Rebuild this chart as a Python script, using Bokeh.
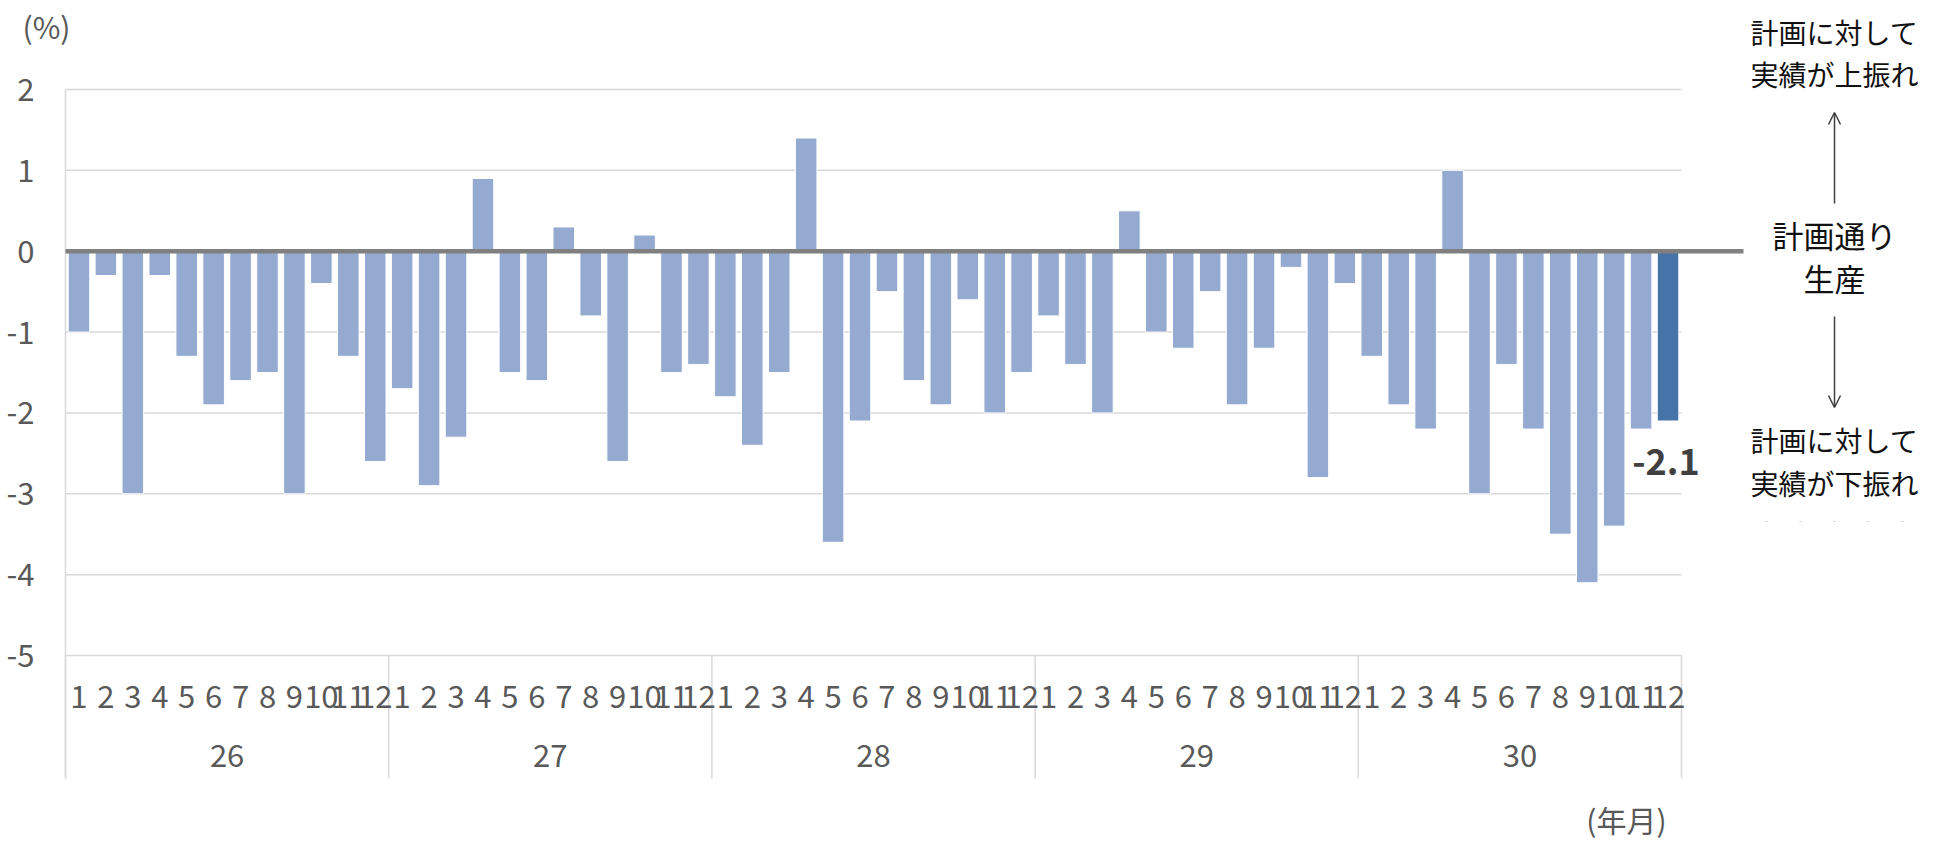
from bokeh.plotting import figure
from bokeh.models import Range1d, Label, Arrow, OpenHead, ColumnDataSource
from bokeh.core.properties import value
from bokeh.embed import file_html
from bokeh.resources import INLINE

# ---------------- data ----------------
years = ["26", "27", "28", "29", "30"]
months = ["1", "2", "3", "4", "5", "6", "7", "8", "9", "10", "11", "12"]
values_26 = [-1.0, -0.3, -3.0, -0.3, -1.3, -1.9, -1.6, -1.5, -3.0, -0.4, -1.3, -2.6]
values_27 = [-1.7, -2.9, -2.3, 0.9, -1.5, -1.6, 0.3, -0.8, -2.6, 0.2, -1.5, -1.4]
values_28 = [-1.8, -2.4, -1.5, 1.4, -3.6, -2.1, -0.5, -1.6, -1.9, -0.6, -2.0, -1.5]
values_29 = [-0.8, -1.4, -2.0, 0.5, -1.0, -1.2, -0.5, -1.9, -1.2, -0.2, -2.8, -0.4]
values_30 = [-1.3, -1.9, -2.2, 1.0, -3.0, -1.4, -2.2, -3.5, -4.1, -3.4, -2.2, -2.1]
y_ticks = [-5, -4, -3, -2, -1, 0, 1, 2]
y_tick_labels = ["-5", "-4", "-3", "-2", "-1", "0", "1", "2"]

# ---------------- styling ----------------
LIGHT = "#95AAD1"
DARK = "#4673A8"
GRID = "#D9D9D9"
AXIS_TXT = "#595959"
FONT = "Noto Sans CJK JP"
TICK_FS = "31px"

values = values_26 + values_27 + values_28 + values_29 + values_30
n_m = len(months)
N = len(values)
xs = [i + 0.5 for i in range(N)]
month_labels = months * len(years)
year_centers = [k * n_m + n_m / 2 for k in range(len(years))]
separators = [k * n_m for k in range(len(years) + 1)]
colors = [LIGHT] * (N - 1) + [DARK]

W, H = 1927, 842
MARGIN = 0
# plot area in page pixels
FL, FR, FT, FB = 65, 1681, 89, 655
Y0, Y1 = y_ticks[0], y_ticks[-1]


def dx(px):
    return (px - FL) / (FR - FL) * N


def dy(py):
    return Y1 - (py - FT) / (FB - FT) * (Y1 - Y0)


p = figure(width=W, height=H,
           x_range=Range1d(dx(MARGIN), dx(MARGIN + W)),
           y_range=Range1d(dy(MARGIN + H), dy(MARGIN)),
           x_axis_type=None, y_axis_type=None,
           output_backend="svg", toolbar_location=None, min_border=0)
p.outline_line_color = None
p.background_fill_color = "white"
p.border_fill_color = "white"

# horizontal gridlines limited to the plot area
p.segment(x0=0, x1=N, y0=y_ticks, y1=y_ticks, line_color=GRID, line_width=1.5)
# left axis line and year separators
sep_bottom = dy(778)
p.segment(x0=0, x1=0, y0=Y1, y1=sep_bottom, line_color=GRID, line_width=1.5)
p.segment(x0=separators, x1=separators, y0=Y0, y1=sep_bottom,
          line_color=GRID, line_width=1.5)

# bars
src = ColumnDataSource(dict(x=xs, top=values, color=colors))
p.vbar(x="x", top="top", bottom=0, width=0.8, fill_color="color",
       line_color="white", line_width=1, source=src)

# zero line (planned production), extends past the plot area
p.segment(x0=0, x1=dx(1743), y0=0, y1=0, line_color="#808080", line_width=4.5)

# y tick labels
p.text(x=dx(34), y=y_ticks, text=y_tick_labels, text_align="right",
       text_baseline="middle", text_font=value(FONT), text_font_size=value(TICK_FS),
       text_color=AXIS_TXT)
# month labels
p.text(x=xs, y=dy(696), text=month_labels, text_align="center",
       text_baseline="middle", text_font=value(FONT), text_font_size=value(TICK_FS),
       text_color=AXIS_TXT)
# year labels
p.text(x=year_centers, y=dy(755), text=years, text_align="center",
       text_baseline="middle", text_font=value(FONT), text_font_size=value(TICK_FS),
       text_color=AXIS_TXT)

# data label of last bar
p.add_layout(Label(x=xs[-1], y=values[-1], x_offset=-2, y_offset=-40,
                   text=f"{values[-1]}", text_align="center", text_baseline="middle",
                   text_font=FONT, text_font_size="36px", text_font_style="bold",
                   text_color="#404040"))

# unit labels
p.add_layout(Label(x=dx(22), y=dy(25), text="(%)", text_align="left",
                   text_baseline="middle", text_font=FONT, text_font_size="30px",
                   text_color=AXIS_TXT))
p.add_layout(Label(x=dx(1626), y=dy(818), text="(年月)", text_align="center",
                   text_baseline="middle", text_font=FONT, text_font_size="30px",
                   text_color=AXIS_TXT))

# right-hand explanation
RX = 1834
notes = [("計画に対して", 31, "28px"), ("実績が上振れ", 73, "28px"),
         ("計画通り", 234, "31px"), ("生産", 277, "31px"),
         ("計画に対して", 439, "28px"), ("実績が下振れ", 482, "28px")]
for txt, py, fs in notes:
    p.add_layout(Label(x=dx(RX), y=dy(py), text=txt, text_align="center",
                       text_baseline="middle", text_font=FONT, text_font_size=fs,
                       text_color="#111111"))

p.add_layout(Arrow(end=OpenHead(size=12, line_color="#404040", line_width=1.5),
                   x_start=dx(RX), x_end=dx(RX), y_start=dy(203), y_end=dy(112),
                   line_color="#404040", line_width=1.5))
p.add_layout(Arrow(end=OpenHead(size=12, line_color="#404040", line_width=1.5),
                   x_start=dx(RX), x_end=dx(RX), y_start=dy(316), y_end=dy(407),
                   line_color="#404040", line_width=1.5))

# faint dotted trace under the lower note
p.segment(x0=dx(1765), x1=dx(1910), y0=dy(521), y1=dy(521), line_color="#CFCFCF",
          line_width=1, line_dash="2 32")

open("out.html", "w").write(file_html(p, INLINE))
